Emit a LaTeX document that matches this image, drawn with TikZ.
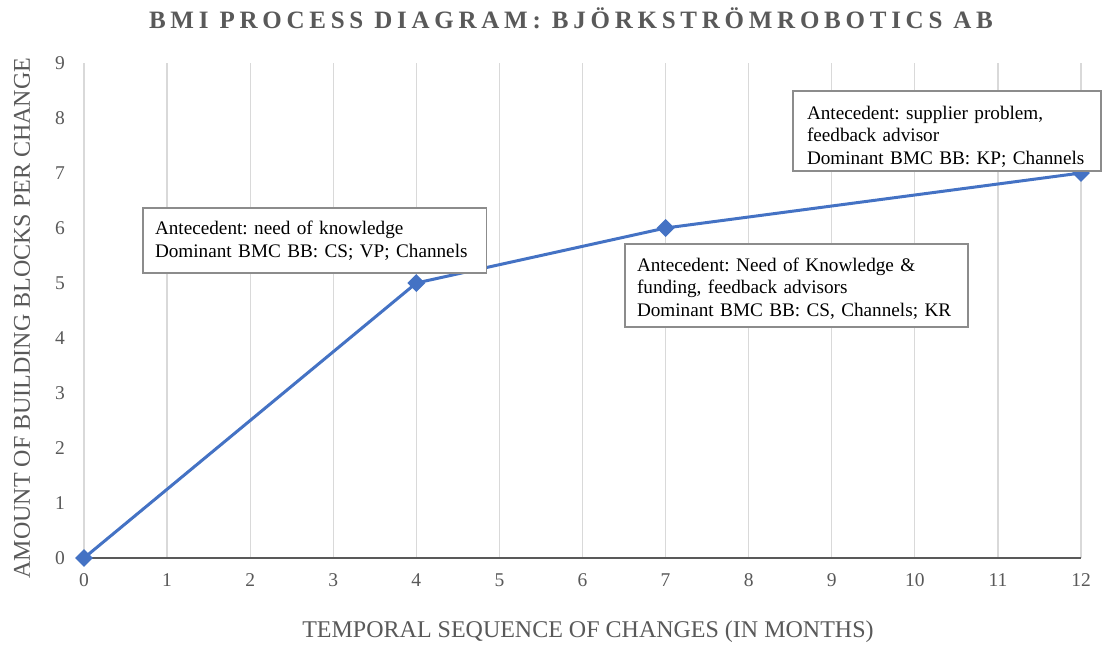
\documentclass[tikz,border=0pt]{standalone}
\usepackage{fontspec}
\setmainfont{Liberation Serif}
\newfontfamily\titlefont[LetterSpace=19]{Liberation Serif Bold}
\usetikzlibrary{shapes.geometric}

\definecolor{labelgrey}{HTML}{595959}
\definecolor{gridgrey}{HTML}{D9D9D9}
\definecolor{seriesblue}{HTML}{4472C4}
\definecolor{boxgrey}{HTML}{8C8C8C}

\tikzset{
  gridline/.style={draw=gridgrey, line width=1.2pt},
  baseaxis/.style={draw=labelgrey, line width=1.5pt},
  ticklabel/.style={text=labelgrey, font=\fontsize{19.5}{22}\selectfont, inner sep=0pt},
  axistitle/.style={text=labelgrey, font=\fontsize{24}{28}\selectfont, inner sep=0pt},
  charttitle/.style={text=labelgrey, font=\titlefont\fontsize{25}{28}\selectfont, inner sep=0pt},
  series/.style={draw=seriesblue, line width=3pt, line join=round},
  marker/.style={diamond, fill=seriesblue, draw=none, minimum size=18pt, inner sep=0pt},
  note/.style={draw=boxgrey, line width=1.3pt, fill=white, align=left,
    font=\frenchspacing\fontsize{19.2}{22.5}\selectfont, inner ysep=4pt}
}

\begin{document}
\begin{tikzpicture}[x=1pt, y=-1pt]
  \useasboundingbox (0,0) rectangle (1103,646);
  \fill[white] (0,0) rectangle (1103,646);

  % plot area: one unit along x is one month, one unit along y is one block
  \begin{scope}[shift={(84,558)}, x=83.083pt, y=55pt]
    \foreach \i in {0,...,12} {
      \draw[gridline] (\i,0) -- (\i,9);
      \node[ticklabel] (xt\i) at (\i,0) [yshift=-22pt] {\i};
    }
    \foreach \j in {0,...,9} {
      \node[ticklabel] (yt\j) at (0,\j) [xshift=-24pt] {\j};
    }
    \draw[baseaxis] (0,0) -- (12,0);

    \coordinate (c0) at (0,0);
    \coordinate (c4) at (4,5);
    \coordinate (c7) at (7,6);
    \coordinate (c12) at (12,7);
    \draw[series] (c0) -- (c4) -- (c7) -- (c12);
    \foreach \k in {0,4,7,12} {
      \node[marker] (m\k) at (c\k) {};
    }
  \end{scope}

  % annotation boxes (each line kept whole)
  \node[note, minimum width=343.5pt, minimum height=65pt, text width=319.5pt, inner xsep=12pt]
    (n4) at (314.75,240.5)
    {\mbox{Antecedent: need of knowledge}\\\mbox{Dominant BMC BB: CS; VP; Channels}};
  \node[note, minimum width=343pt, minimum height=83pt, text width=319pt, inner xsep=12pt]
    (n7) at (796.5,285.5)
    {\rule{0pt}{19pt}\mbox{Antecedent: Need of Knowledge \&}\\\mbox{funding, feedback advisors}\\\mbox{Dominant BMC BB: CS, Channels; KR}};
  \node[note, minimum width=308pt, minimum height=74pt, text width=280pt, inner xsep=14pt]
    (n12) at (947,131)
    {\rule{0pt}{24pt}\mbox{Antecedent: supplier problem,}\\\mbox{feedback advisor}\\\mbox{Dominant BMC BB: KP; Channels}};

  % titles
  \node[charttitle] (title) at (571,18) {BMI PROCESS DIAGRAM: BJÖRKSTRÖMROBOTICS AB};
  \node[axistitle] (xtitle) at (588,632) {TEMPORAL SEQUENCE OF CHANGES (IN MONTHS)};
  \node[axistitle, rotate=90] (ytitle) at (22,318) {AMOUNT OF BUILDING BLOCKS PER CHANGE};
\end{tikzpicture}
\end{document}
